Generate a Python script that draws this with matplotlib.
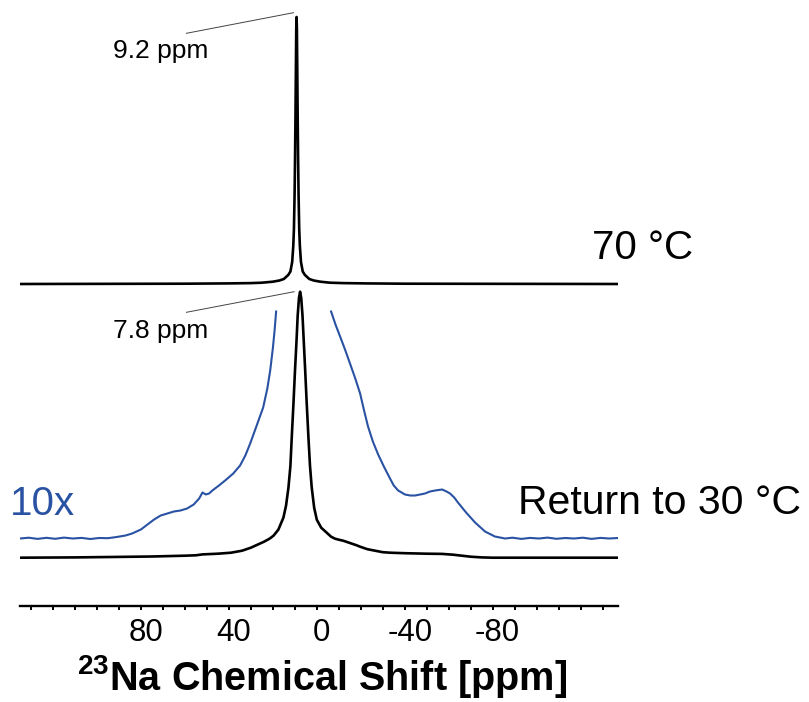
import matplotlib
matplotlib.use("Agg")
import matplotlib.pyplot as plt
import matplotlib.transforms as mtransforms
from matplotlib.ticker import FixedLocator, FixedFormatter

plt.rcParams['font.family'] = ['Liberation Sans', 'DejaVu Sans']
plt.rcParams['mathtext.fontset'] = 'custom'
plt.rcParams['mathtext.rm'] = 'Liberation Sans'
plt.rcParams['mathtext.bf'] = 'Liberation Sans:bold'

# 70 C spectrum: chemical shift (ppm) and intensity above its baseline
hot_ppm = [135, 60, 40, 30, 25, 20, 17, 15, 13, 12, 11.2, 10.7, 10.4, 10.1, 9.9, 9.7,
           9.5, 9.35, 9.2, 9.05, 8.9, 8.7, 8.5, 8.3, 8.0, 7.7, 7.2, 6.4, 5.4, 3.4, 1.4,
           -1.6, -6, -12, -22, -40, -137]
hot_int = [0, 0.3, 0.6, 0.9, 1.3, 2.3, 3.5, 5, 9, 12.5, 22, 38, 55, 90, 125, 168,
           218, 255, 267, 255, 218, 168, 125, 90, 55, 38, 22, 12.5, 9, 5, 3.5,
           2.3, 1.3, 0.9, 0.6, 0.3, 0]

# back at 30 C, full scale
cool_ppm = [135, 110, 90, 75, 60, 55, 52, 45, 39, 34, 30, 27, 24, 21.5, 19.7, 17.5,
            15.2, 14, 12.9, 12, 11.4, 10.6, 9.9, 9.2, 8.7, 8.1, 7.6, 7.1, 6.5, 5.9,
            5.3, 4.6, 3.8, 3.1, 2.3, 1.2, 0, -2, -4.5, -6.5, -8.3, -10, -12, -14,
            -16, -18, -19.7, -23, -26.5, -30, -33.3, -40, -50, -57, -62, -66, -70,
            -75, -80, -137]
cool_int = [0, 0.3, 0.8, 1.2, 2, 2.4, 3.3, 4, 5, 7, 10, 13, 16, 19, 22, 28,
            40, 52, 70, 92, 120, 155, 188, 218, 242, 260, 266, 260, 242, 215,
            188, 155, 120, 92, 70, 50, 38, 30, 25, 21, 19, 18, 17, 15.5,
            14, 12.5, 11, 8.5, 7, 5.5, 5, 4.5, 4, 3.8, 3, 2, 1,
            0.3, 0, 0]

# back at 30 C, 10x vertical scale (clipped around the main peak)
zoom_left_ppm = [135, 131, 127, 123, 119, 115, 111, 107, 103, 99, 95, 91, 87, 84, 80,
                 77, 74, 71, 68, 65, 62, 59, 56, 53.5, 52, 50.5, 49, 47.5, 44.5, 41.7,
                 38, 34.9, 32.5, 30.3, 27.5, 24.4, 22.5, 21.2, 20, 19.2, 18.5]
zoom_left_int = [0, 0.8, -0.4, 0.7, -0.3, 0.9, 0, 0.6, -0.5, 0.5, 0.3, 1.5, 3, 5, 9,
                 14, 19, 23, 25, 27, 28, 30, 34, 40, 46, 44, 45, 48, 53, 58,
                 65, 73, 83, 95, 112, 131, 150, 168, 190, 208, 227]
zoom_right_ppm = [-6.5, -8.5, -10.6, -13, -15.1, -17.5, -19.7, -21.5, -23.3, -25.5,
                  -27.9, -30.5, -33.3, -35, -37, -40.1, -42.5, -44.7, -47, -49.2,
                  -51.5, -53.8, -57, -59, -60.6, -62.5, -64.2, -67.9, -72, -76.5,
                  -81, -85.6, -89, -93, -97, -101, -105, -109, -113, -117, -121,
                  -125, -129, -133, -137]
zoom_right_int = [227, 214, 202, 188, 175, 160, 145, 128, 112, 97,
                  84, 72, 60, 53, 48, 44, 43, 43, 44, 45,
                  47, 48, 49, 47, 45, 41, 36, 26, 16, 7,
                  2, 0, 0.8, -0.4, 0.6, 0, 0.9, -0.3, 0.5, 0, 0.8,
                  -0.4, 0.6, 0, 0.5]

tick_ppm = list(range(130, -140, -10))
label_ppm = [80, 40, 0, -40, -80]

# vertical offsets of the stacked traces
hot_base = 321.7
zoom_base = 67.2
cool_base = 48.0

blue = '#2a52a3'

fig = plt.figure(figsize=(8.09, 7.02), dpi=100)
ax = fig.add_axes([20 / 809, 96.3 / 702, 598 / 809, 600.7 / 702])

ax.plot(hot_ppm, [v + hot_base for v in hot_int], color='black', lw=1.9,
        solid_joinstyle='round')
ax.plot(cool_ppm, [v + cool_base for v in cool_int], color='black', lw=1.9,
        solid_joinstyle='round')
ax.plot(zoom_left_ppm, [v + zoom_base for v in zoom_left_int], color=blue, lw=1.5)
ax.plot(zoom_right_ppm, [v + zoom_base for v in zoom_right_int], color=blue, lw=1.5)

# peak labels with thin leader lines
ax.plot([59.3, 10.6], [572.4, 593.0], color='#444444', lw=0.7, clip_on=False)
ax.plot([59.3, 10.3], [293.4, 314.0], color='#444444', lw=0.7, clip_on=False)
ax.text(92.6, 547.7, '9.2 ppm', fontsize=19, va='baseline')
ax.text(92.6, 267.7, '7.8 ppm', fontsize=19, va='baseline')

ax.text(-125, 346.7, '70 °C', fontsize=29, va='baseline')
ax.text(-91.6, 91.7, 'Return to 30 °C', fontsize=29.5, va='baseline')
ax.text(139.4, 90.7, '10x', fontsize=29, va='baseline', color=blue)

ax.set_xlim(135, -137)
ax.set_ylim(0, 600.7)
for side in ['left', 'right', 'top']:
    ax.spines[side].set_visible(False)
ax.spines['bottom'].set_linewidth(1.7)
ax.set_yticks([])

ax.xaxis.set_major_locator(FixedLocator(tick_ppm))
ax.xaxis.set_major_formatter(FixedFormatter(
    [str(t) if t in label_ppm else '' for t in tick_ppm]))
ax.tick_params(axis='x', direction='out', length=2.9, width=1.4, pad=6, labelsize=22.5)
shift = mtransforms.ScaledTranslation(0.05, 0, fig.dpi_scale_trans)
for lab in ax.get_xticklabels():
    lab.set_transform(lab.get_transform() + shift)

fig.text(322.5 / 809, 12 / 702, r'$^{\mathbf{23}}$Na Chemical Shift [ppm]',
         fontsize=28.5, fontweight='bold', ha='center', va='baseline')

fig.savefig('out.png', dpi=100)
